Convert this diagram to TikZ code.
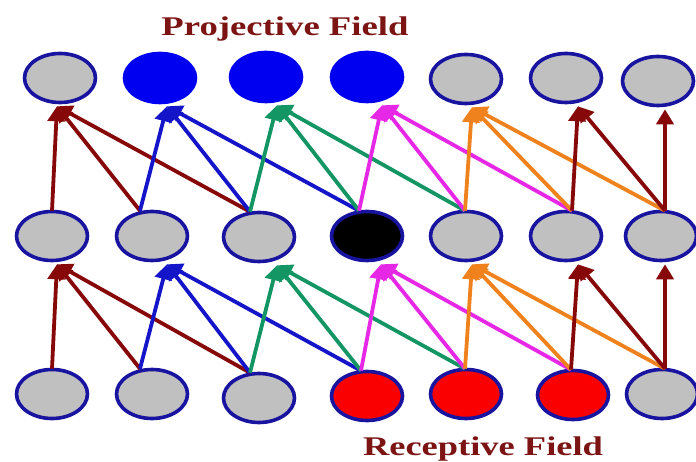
\documentclass[tikz,border=0pt]{standalone}
\usepackage{fontspec}
\setmainfont{Liberation Serif}
\usetikzlibrary{shapes.geometric,arrows.meta}
\definecolor{dred}{RGB}{135,8,8}
\definecolor{cblue}{RGB}{20,20,200}
\definecolor{cgreen}{RGB}{20,150,100}
\definecolor{cmag}{RGB}{230,40,230}
\definecolor{corange}{RGB}{240,130,30}
\definecolor{nborder}{RGB}{25,20,160}
\definecolor{cgray}{RGB}{192,192,192}
\definecolor{fblue}{RGB}{0,0,240}
\definecolor{fred}{RGB}{250,0,0}
\definecolor{tred}{RGB}{125,20,20}
\begin{document}
\begin{tikzpicture}[x=1pt,y=-1pt,
  cell/.style={ellipse,draw=nborder,line width=3.6pt,minimum width=71pt,minimum height=49pt,inner sep=0pt,fill=cgray},
  con/.style={line width=3.8pt,-{Triangle[length=15pt,width=17pt]}},
  lbl/.style={text=tred,font=\fontsize{27}{30}\selectfont\bfseries,inner sep=0pt,anchor=base}]
\useasboundingbox[fill=white] (0,0) rectangle (696,462);
% labels
\node[lbl] (pf) at (285,36) {\scalebox{1.36}[1]{Projective Field}};
\node[lbl] (rf) at (483,455) {\scalebox{1.35}[1]{Receptive Field}};
% top row
\node[cell] (t1) at (60,78) {};
\node[cell,fill=fblue,draw=fblue] (t2) at (160,78) {};
\node[cell,fill=fblue,draw=fblue] (t3) at (266,77) {};
\node[cell,fill=fblue,draw=fblue] (t4) at (367,77) {};
\node[cell] (t5) at (466,79) {};
\node[cell] (t6) at (566,78) {};
\node[cell] (t7) at (658,81) {};
% middle row
\node[cell] (m1) at (52,236) {};
\node[cell] (m2) at (152,236) {};
\node[cell] (m3) at (259,237) {};
\node[cell,fill=black] (m4) at (367,236) {};
\node[cell] (m5) at (466,236) {};
\node[cell] (m6) at (566,236) {};
\node[cell] (m7) at (661,236) {};
% bottom row
\node[cell] (b1) at (52,394) {};
\node[cell] (b2) at (152,394) {};
\node[cell] (b3) at (259,398) {};
\node[cell,fill=fred] (b4) at (367,396) {};
\node[cell,fill=fred] (b5) at (466,394) {};
\node[cell,fill=fred] (b6) at (573,395) {};
\node[cell] (b7) at (662,394) {};
% arrow end points
\foreach \n/\d in {1/-3,2/7,3/11,4/15,5/6,6/12,7/7}
  \coordinate (ti\n) at ([xshift=\d pt,yshift=-2pt]t\n.south);
\foreach \n/\d in {1/5,2/15,3/18,4/14,5/6,6/12,7/4}
  \coordinate (mi\n) at ([xshift=\d pt,yshift=-2pt]m\n.south);
\foreach \n/\d in {1/0,2/-12,3/-9,4/-8,5/-1,6/6,7/4}
  \coordinate (mo\n) at ([xshift=\d pt,yshift=-1pt]m\n.north);
\foreach \n/\d in {1/0,2/-12,3/-9,4/-6,5/-1,6/-2,7/3}
  \coordinate (bo\n) at ([xshift=\d pt,yshift=-1pt]b\n.north);
% connectors
\foreach \t/\s/\c in {1/1/dred,1/2/dred,1/3/dred,
                      2/2/cblue,2/3/cblue,2/4/cblue,
                      3/3/cgreen,3/4/cgreen,3/5/cgreen,
                      4/4/cmag,4/5/cmag,4/6/cmag,
                      5/5/corange,5/6/corange,5/7/corange,
                      6/6/dred,6/7/dred,
                      7/7/dred}{
  \draw[con,draw=\c,fill=\c] (mo\s) -- (ti\t);
  \draw[con,draw=\c,fill=\c] (bo\s) -- (mi\t);
}
\end{tikzpicture}
\end{document}
